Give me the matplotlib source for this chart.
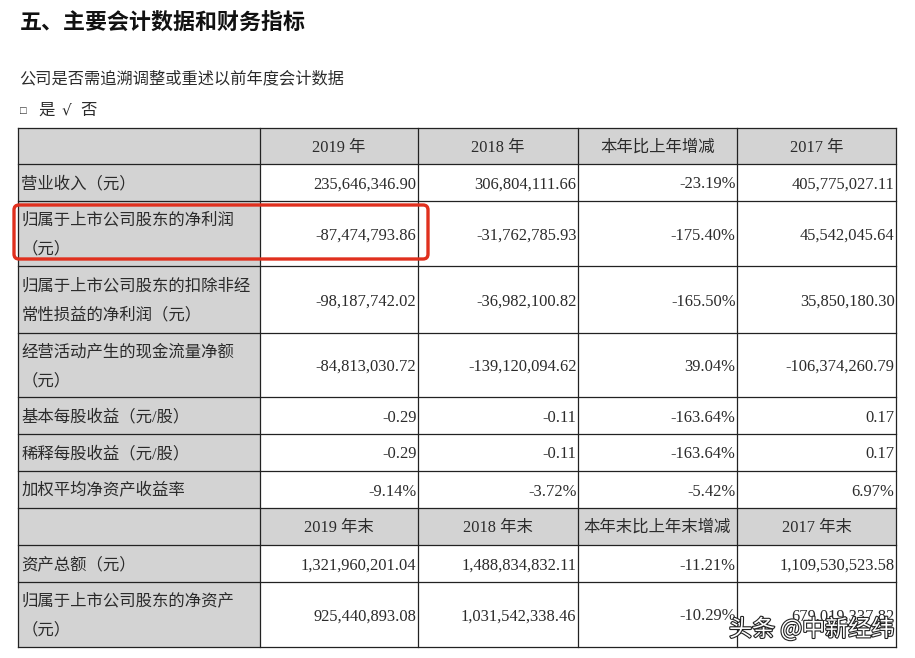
"""Annual report table: key accounting data, redrawn as real text on a pixel grid."""

import matplotlib
matplotlib.use("Agg")
import matplotlib.pyplot as plt
import matplotlib.patheffects as pe
from matplotlib.patches import FancyBboxPatch, Rectangle

plt.rcParams["font.family"] = ["Liberation Serif", "Noto Sans CJK SC", "DejaVu Sans"]

title = "五、主要会计数据和财务指标"
question = "公司是否需追溯调整或重述以前年度会计数据"

header_top = ["2019 年", "2018 年", "本年比上年增减", "2017 年"]
header_bottom = ["2019 年末", "2018 年末", "本年末比上年末增减", "2017 年末"]

row_labels = [
    ["营业收入（元）"],
    ["归属于上市公司股东的净利润", "（元）"],
    ["归属于上市公司股东的扣除非经", "常性损益的净利润（元）"],
    ["经营活动产生的现金流量净额", "（元）"],
    ["基本每股收益（元/股）"],
    ["稀释每股收益（元/股）"],
    ["加权平均净资产收益率"],
    None,
    ["资产总额（元）"],
    ["归属于上市公司股东的净资产", "（元）"],
]
col_2019 = ["235,646,346.90", "-87,474,793.86", "-98,187,742.02", "-84,813,030.72",
            "-0.29", "-0.29", "-9.14%", None, "1,321,960,201.04", "925,440,893.08"]
col_2018 = ["306,804,111.66", "-31,762,785.93", "-36,982,100.82", "-139,120,094.62",
            "-0.11", "-0.11", "-3.72%", None, "1,488,834,832.11", "1,031,542,338.46"]
col_change = ["-23.19%", "-175.40%", "-165.50%", "39.04%",
              "-163.64%", "-163.64%", "-5.42%", None, "-11.21%", "-10.29%"]
col_2017 = ["405,775,027.11", "45,542,045.64", "35,850,180.30", "-106,374,260.79",
            "0.17", "0.17", "6.97%", None, "1,109,530,523.58", "679,019,337.82"]

# table grid, in image pixels
col_edges = [18, 260, 418, 578, 737, 896]
row_edges = [128, 164, 201, 266, 333, 397, 434, 471, 508, 545, 582, 647]
TEXT = "#2b2b2b"
GRAY = "#d3d3d3"

fig = plt.figure(figsize=(9.15, 6.58), dpi=100)
ax = fig.add_axes([0, 0, 1, 1])
ax.set_xlim(0, 915)
ax.set_ylim(658, 0)
ax.axis("off")

# grey cells first, grid on top
ax.add_patch(Rectangle((col_edges[0], row_edges[0]), col_edges[1] - col_edges[0],
                       row_edges[-1] - row_edges[0], fc=GRAY, ec="none"))
for top, bottom in [(row_edges[0], row_edges[1]), (row_edges[8], row_edges[9])]:
    ax.add_patch(Rectangle((col_edges[0], top), col_edges[-1] - col_edges[0],
                           bottom - top, fc=GRAY, ec="none"))
for x in col_edges:
    ax.plot([x, x], [row_edges[0], row_edges[-1]], color="#222222", lw=0.9)
for y in row_edges:
    ax.plot([col_edges[0], col_edges[-1]], [y, y], color="#222222", lw=0.9)

ax.text(20, 24, title, fontsize=15.8, fontweight="bold", color="#111111", va="center")
ax.text(19, 79, question, fontsize=11.7, color=TEXT, va="center")
ax.text(20, 112, "□", fontsize=8, color=TEXT, va="center")
ax.text(38, 111, "是", fontsize=11.8, color=TEXT, va="center")
ax.text(62, 110, "√", fontsize=11, color=TEXT, va="center", family="DejaVu Sans")
ax.text(80, 111, "否", fontsize=11.8, color=TEXT, va="center")

for i, name in enumerate(header_top):
    ax.text((col_edges[i + 1] + col_edges[i + 2]) / 2, 148, name,
            fontsize=11.8, color=TEXT, ha="center", va="center")
for i, name in enumerate(header_bottom):
    ax.text((col_edges[i + 1] + col_edges[i + 2]) / 2, 528, name,
            fontsize=11.8, color=TEXT, ha="center", va="center")

columns = [col_2019, col_2018, col_change, col_2017]
for r, lines in enumerate(row_labels):
    if lines is None:
        continue
    top, bottom = row_edges[r + 1], row_edges[r + 2]
    mid = (top + bottom) / 2 + 2
    if len(lines) == 1:
        ax.text(21.5, mid, lines[0], fontsize=11.8, color=TEXT, va="center")
    else:
        ax.text(21.5, mid - 15, lines[0], fontsize=11.8, color=TEXT, va="center")
        ax.text(21.5, mid + 14, lines[1], fontsize=11.8, color=TEXT, va="center")
    for c, column in enumerate(columns):
        ax.text(col_edges[c + 2] - 1.5, mid, column[r], fontsize=11.9, color=TEXT,
                ha="right", va="center")

# red highlight round the net profit row
ax.add_patch(FancyBboxPatch((14, 205), 414, 54, boxstyle="round,pad=0,rounding_size=5",
                            fc="none", ec="#e0301e", lw=2.4, zorder=5))

ax.text(729, 629, "头条 @中新经纬", fontsize=16.6, color="white", va="center", zorder=6,
        family=["Noto Sans CJK SC", "DejaVu Sans"],
        path_effects=[pe.withStroke(linewidth=1.6, foreground="#222222")])

fig.savefig("out.png", dpi=100)
